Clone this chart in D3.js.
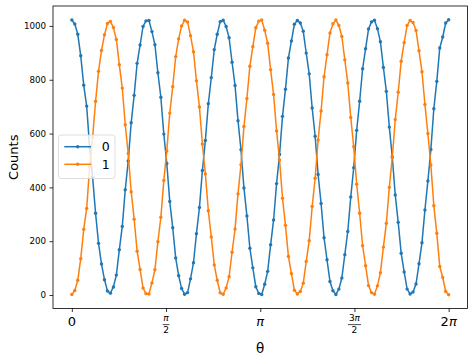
<!DOCTYPE html>
<html>
<head>
<meta charset="utf-8">
<script src="https://cdn.jsdelivr.net/npm/d3@7"></script>
<style>
  body { margin: 0; background: #fff; }
  svg { display: block; font-family: "DejaVu Sans", sans-serif; }
</style>
</head>
<body>
<svg width="474" height="361"></svg>
<script>
// counts per outcome, 128 samples of theta over [0, 2pi]
const nSamples = 128;
const counts0 = [
    1022, 1007, 969, 889, 780, 702, 548, 438, 304, 192, 115, 57, 15, 7, 30, 74,
    168, 255, 391, 498, 640, 742, 861, 929, 998, 1019, 1020, 979, 930, 826, 735, 598,
    489, 348, 250, 138, 72, 24, 3, 9, 60, 120, 228, 325, 463, 574, 711, 808,
    912, 969, 1016, 1021, 998, 956, 865, 779, 648, 540, 398, 294, 174, 101, 31, 6,
    2, 40, 88, 187, 279, 414, 522, 664, 765, 881, 944, 1006, 1020, 1011, 980, 899,
    822, 695, 590, 448, 340, 213, 131, 50, 16, 2, 22, 63, 150, 236, 364, 473,
    612, 720, 841, 915, 989, 1015, 1021, 990, 941, 846, 757, 624, 513, 372, 270, 155,
    86, 22, 4, 11, 41, 116, 194, 316, 424, 541, 692, 794, 918, 959, 1011, 1023
];
const counts1 = [
    2, 17, 55, 135, 244, 322, 476, 586, 720, 832, 909, 967, 1009, 1017, 994, 950,
    856, 769, 633, 526, 384, 282, 163, 95, 26, 5, 4, 45, 94, 198, 289, 426,
    535, 676, 774, 886, 952, 1000, 1021, 1015, 964, 904, 796, 699, 561, 450, 313, 216,
    112, 55, 8, 3, 26, 68, 159, 245, 376, 484, 626, 730, 850, 923, 993, 1018,
    1022, 984, 936, 837, 745, 610, 502, 360, 259, 143, 80, 18, 4, 13, 44, 125,
    202, 329, 434, 576, 684, 811, 893, 974, 1008, 1022, 1002, 961, 874, 788, 660, 551,
    412, 304, 183, 109, 35, 9, 3, 34, 83, 178, 267, 400, 511, 652, 754, 869,
    938, 1002, 1020, 1013, 983, 908, 830, 708, 600, 483, 332, 230, 106, 65, 13, 1
];
const seriesNames = ["0", "1"];
const seriesColors = ["#1f77b4", "#ff7f0e"];
const yTicks = [0, 200, 400, 600, 800, 1000];
// x tick labels as multiples of pi: [numerator, denominator]
const xTickFracs = [[0, 1], [1, 2], [1, 1], [3, 2], [2, 1]];

const theta = d3.range(nSamples).map(i => 2 * Math.PI * i / (nSamples - 1));

const svg = d3.select("svg");
const pLeft = 53, pRight = 467.5, pTop = 6, pBottom = 308.5;

// matplotlib-like 5% margins
function pad(ext) {
    const d = (ext[1] - ext[0]) * 0.05;
    return [ext[0] - d, ext[1] + d];
}
const allCounts = counts0.concat(counts1);
const x = d3.scaleLinear().domain(pad(d3.extent(theta))).range([pLeft, pRight]);
const y = d3.scaleLinear().domain(pad(d3.extent(allCounts))).range([pBottom, pTop]);

// y axis
const yAxis = svg.append("g")
    .attr("transform", `translate(${pLeft},0)`)
    .call(d3.axisLeft(y).tickValues(yTicks).tickFormat(d3.format("d")).tickSize(3.5).tickPadding(3.5));
yAxis.select(".domain").remove();
yAxis.selectAll("line").attr("stroke", "#000").attr("stroke-width", 0.8);
yAxis.selectAll("text").attr("font-size", "8.7px").attr("fill", "#000")
    .attr("font-family", "DejaVu Sans, sans-serif");

// x axis ticks
const xAxis = svg.append("g")
    .attr("transform", `translate(0,${pBottom})`)
    .call(d3.axisBottom(x).tickValues(xTickFracs.map(f => f[0] * Math.PI / f[1])).tickSize(3.5).tickFormat(""));
xAxis.select(".domain").remove();
xAxis.selectAll("line").attr("stroke", "#000").attr("stroke-width", 0.8);

// x tick labels with pi
xTickFracs.forEach(function(f) {
    const cx = x(f[0] * Math.PI / f[1]);
    if (f[1] == 1) {
        const t = svg.append("text")
            .attr("x", cx).attr("y", 325.7)
            .attr("text-anchor", "middle")
            .attr("font-size", "13px");
        if (f[0] == 0) {
            t.text("0");
        } else {
            if (f[0] != 1) t.append("tspan").text(f[0]);
            t.append("tspan").attr("font-style", "italic").text("π");
        }
    } else {
        const num = svg.append("text")
            .attr("x", cx).attr("y", 321.3)
            .attr("text-anchor", "middle")
            .attr("font-size", "9px");
        if (f[0] != 1) num.append("tspan").text(f[0]);
        num.append("tspan").attr("font-style", "italic").text("π");
        const w = f[0] == 1 ? 6.8 : 13;
        svg.append("line")
            .attr("x1", cx - w / 2).attr("x2", cx + w / 2)
            .attr("y1", 324.6).attr("y2", 324.6)
            .attr("stroke", "#000").attr("stroke-width", 0.7);
        svg.append("text")
            .attr("x", cx).attr("y", 332.8)
            .attr("text-anchor", "middle")
            .attr("font-size", "9px")
            .text(f[1]);
    }
});

// axis labels
svg.append("text")
    .attr("x", (pLeft + pRight) / 2).attr("y", 353)
    .attr("text-anchor", "middle")
    .attr("font-size", "13.5px")
    .text("θ");
svg.append("text")
    .attr("transform", `translate(18,${(pTop + pBottom) / 2}) rotate(-90)`)
    .attr("text-anchor", "middle")
    .attr("font-size", "13px")
    .text("Counts");

// series
const line = d3.line()
    .x(d => x(d[0]))
    .y(d => y(d[1]));

[counts0, counts1].forEach(function(vals, k) {
    const pts = theta.map((t, i) => [t, vals[i]]);
    const g = svg.append("g");
    g.append("path")
        .datum(pts)
        .attr("d", line)
        .attr("fill", "none")
        .attr("stroke", seriesColors[k])
        .attr("stroke-width", 1.5);
    g.selectAll("circle")
        .data(pts)
        .enter()
        .append("circle")
        .attr("cx", d => x(d[0]))
        .attr("cy", d => y(d[1]))
        .attr("r", 1.7)
        .attr("fill", seriesColors[k]);
});

// frame
svg.append("rect")
    .attr("x", pLeft).attr("y", pTop)
    .attr("width", pRight - pLeft).attr("height", pBottom - pTop)
    .attr("fill", "none")
    .attr("stroke", "#000")
    .attr("stroke-width", 0.8);

// legend
const lg = svg.append("g");
lg.append("rect")
    .attr("x", 58.5).attr("y", 135)
    .attr("width", 56.5).attr("height", 43.5)
    .attr("rx", 2.5)
    .attr("fill", "#fff").attr("fill-opacity", 0.8)
    .attr("stroke", "#d6d6d6").attr("stroke-width", 0.8);
seriesNames.forEach(function(name, k) {
    const ly = 146.7 + k * 17.6;
    lg.append("line")
        .attr("x1", 64.3).attr("x2", 91)
        .attr("y1", ly).attr("y2", ly)
        .attr("stroke", seriesColors[k]).attr("stroke-width", 1.5);
    lg.append("circle")
        .attr("cx", 77.7).attr("cy", ly).attr("r", 1.7)
        .attr("fill", seriesColors[k]);
    lg.append("text")
        .attr("x", 101.8).attr("y", ly + 4.6)
        .attr("font-size", "12.5px")
        .text(name);
});
</script>
</body>
</html>
